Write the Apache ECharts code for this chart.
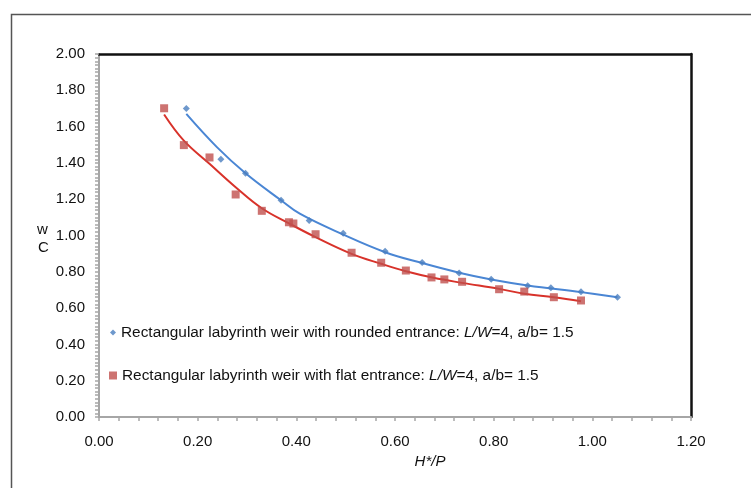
<!DOCTYPE html>
<html>
<head>
<meta charset="utf-8">
<script src="https://cdn.jsdelivr.net/npm/echarts@6/dist/echarts.min.js"></script>
<style>
html, body { margin: 0; padding: 0; background: #fff; }
#main { width: 751px; height: 488px; }
</style>
</head>
<body>
<div id="main"></div>
<script>
// measured points, [H*/P, Cw]
var roundedPts = [[0.177,1.70],[0.247,1.42],[0.297,1.343],[0.369,1.194],[0.426,1.083],[0.495,1.013],
  [0.580,0.913],[0.655,0.851],[0.730,0.794],[0.795,0.759],[0.869,0.723],[0.916,0.712],[0.977,0.690],[1.051,0.660]];
var flatPts = [[0.132,1.701],[0.172,1.498],[0.224,1.430],[0.277,1.226],[0.330,1.136],[0.385,1.073],[0.394,1.066],
  [0.439,1.007],[0.512,0.905],[0.572,0.850],[0.622,0.807],[0.674,0.769],[0.700,0.758],[0.736,0.745],
  [0.811,0.704],[0.862,0.691],[0.922,0.660],[0.977,0.642]];
// trend lines
var roundedTrend = [[0.177,1.67],[0.239,1.487],[0.297,1.343],[0.369,1.194],[0.407,1.12],[0.495,1.005],
  [0.580,0.908],[0.655,0.848],[0.730,0.795],[0.795,0.758],[0.869,0.725],[0.977,0.688],[1.051,0.660]];
var flatTrend = [[0.132,1.667],[0.172,1.523],[0.224,1.395],[0.277,1.266],[0.330,1.150],[0.387,1.064],
  [0.439,0.991],[0.512,0.899],[0.572,0.844],[0.622,0.803],[0.678,0.767],[0.736,0.739],[0.811,0.706],
  [0.862,0.679],[0.922,0.660],[0.977,0.638]];
var names = ['Rectangular labyrinth weir with rounded entrance', 'Rectangular labyrinth weir with flat entrance'];

var font = 'Liberation Sans, Arial, sans-serif';
var myChart = echarts.init(document.getElementById('main'));

function legendFmt(name) {
  return name + ': {i|L/W}=4, a/b= 1.5';
}
var legendText = {
  fontFamily: font, fontSize: 15.4, color: '#111',
  rich: { i: { fontFamily: font, fontSize: 15.4, fontStyle: 'italic', color: '#111' } }
};

option = {
  animation: false,
  grid: { left: 99, right: 60, top: 54, bottom: 71 },
  legend: [
    { data: [names[0]], left: 110, top: 325, padding: 0, itemWidth: 6, itemHeight: 6,
      formatter: legendFmt, textStyle: legendText },
    { data: [names[1]], left: 109, top: 368, padding: 0, itemWidth: 8, itemHeight: 8,
      formatter: legendFmt, textStyle: legendText }
  ],
  xAxis: [{
    type: 'value', min: 0, max: 1.2, interval: 0.2,
    axisLine: { show: true, onZero: false, lineStyle: { color: '#a6a6a6', width: 2 } },
    axisTick: { show: true, length: 4, lineStyle: { color: '#a6a6a6', width: 1.5 } },
    minorTick: { show: true, splitNumber: 5, length: 4, lineStyle: { color: '#a6a6a6', width: 1.5 } },
    splitLine: { show: false },
    axisLabel: { margin: 17, fontFamily: font, fontSize: 15, color: '#111',
      formatter: function (v) { return v.toFixed(2); } },
    name: 'H*/P', nameLocation: 'middle', nameGap: 36,
    nameTextStyle: { fontFamily: font, fontSize: 15, fontStyle: 'italic', color: '#111', padding: [0, 0, 0, 70] }
  }, {
    type: 'value', position: 'top', min: 0, max: 1.2,
    axisLine: { show: true, onZero: false, lineStyle: { color: '#111', width: 2.5 } },
    axisTick: { show: false }, axisLabel: { show: false }, splitLine: { show: false }
  }],
  yAxis: [{
    type: 'value', min: 0, max: 2, interval: 0.2,
    axisLine: { show: true, onZero: false, lineStyle: { color: '#a6a6a6', width: 2 } },
    axisTick: { show: true, length: 4, lineStyle: { color: '#a6a6a6', width: 1.5 } },
    minorTick: { show: true, splitNumber: 10, length: 4, lineStyle: { color: '#a6a6a6', width: 1.5 } },
    splitLine: { show: false },
    axisLabel: { margin: 14, fontFamily: font, fontSize: 15, color: '#111',
      formatter: function (v) { return v.toFixed(2); } }
  }, {
    type: 'value', position: 'right', min: 0, max: 2,
    axisLine: { show: true, onZero: false, lineStyle: { color: '#111', width: 2.5 } },
    axisTick: { show: false }, axisLabel: { show: false }, splitLine: { show: false }
  }],
  graphic: [
    { type: 'rect', left: 9, top: 12, shape: { width: 800, height: 600 },
      style: { fill: 'none', stroke: '#555', lineWidth: 1.5 }, silent: true },
    { type: 'text', left: 37, top: 222, style: { text: 'w', font: '15px ' + font, fill: '#111' } },
    { type: 'text', left: 38, top: 240, style: { text: 'C', font: '15px ' + font, fill: '#111' } }
  ],
  series: [
    { name: 'roundedTrend', type: 'line', data: roundedTrend, smooth: 0.4, showSymbol: false,
      lineStyle: { color: '#4a86d4', width: 2 }, z: 2 },
    { name: 'flatTrend', type: 'line', data: flatTrend, smooth: 0.4, showSymbol: false,
      lineStyle: { color: '#d8322a', width: 2 }, z: 2 },
    { name: names[0], type: 'scatter', data: roundedPts, symbol: 'diamond', symbolSize: 7,
      itemStyle: { color: '#4a7ebf' }, z: 3 },
    { name: names[1], type: 'scatter', data: flatPts, symbol: 'rect', symbolSize: 8,
      itemStyle: { color: '#c0504d' }, z: 3 }
  ]
};

myChart.setOption(option);
</script>
</body>
</html>
